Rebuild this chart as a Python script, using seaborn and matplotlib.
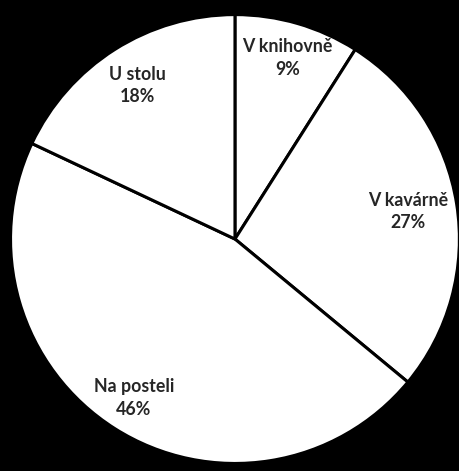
import matplotlib.pyplot as plt
import numpy as np
import seaborn as sns

# Where students study (share of answers), clockwise from the top
places = ["V knihovně", "V kavárně", "Na posteli", "U stolu"]
shares = [9, 27, 46, 18]
label_dist = [0.84, 0.78, 0.84, 0.81]

sns.set_theme(style="white")
plt.rcParams["font.family"] = ["Lato", "DejaVu Sans"]

fig = plt.figure(figsize=(4.59, 4.71), dpi=100, facecolor="black")
ax = fig.add_axes([0.0229, 0.016, 0.978, 0.953])
ax.set_facecolor("black")

wedges, _ = ax.pie(
    shares,
    startangle=90,
    counterclock=False,
    colors=["white"] * len(shares),
    wedgeprops=dict(edgecolor="black", linewidth=2.2),
)

# labels at the middle of each wedge
for w, name, val, d in zip(wedges, places, shares, label_dist):
    ang = np.deg2rad((w.theta1 + w.theta2) / 2)
    ax.text(d * np.cos(ang), d * np.sin(ang), f"{name}\n{val}%",
            ha="center", va="center", fontsize=12.8, fontweight="bold",
            color="#262626", linespacing=1.4)

ax.set_xlim(-1.0, 1.0)
ax.set_ylim(-1.0, 1.0)
ax.set_aspect("equal", adjustable="box")

fig.savefig("out.png", dpi=100, facecolor="black")
